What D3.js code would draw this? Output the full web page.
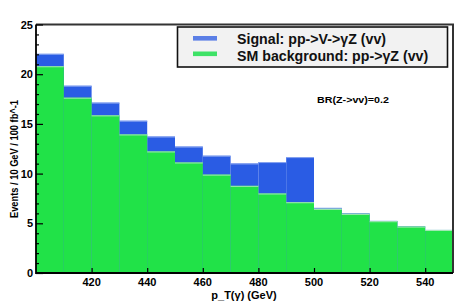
<!DOCTYPE html>
<html>
<head>
<meta charset="utf-8">
<script src="https://cdn.jsdelivr.net/npm/d3@7"></script>
<style>
  body { margin: 0; background: #fff; }
  svg { display: block; font-family: "Liberation Sans", Arial, sans-serif; font-weight: bold; }
</style>
</head>
<body>
<svg id="chart" width="463" height="304"></svg>
<script>
// bin low edges, 10 GeV wide
const binEdges = [400, 410, 420, 430, 440, 450, 460, 470, 480, 490, 500, 510, 520, 530, 540];
const background = [20.8, 17.64, 15.86, 13.94, 12.23, 11.12, 9.9, 8.77, 8.0, 7.12, 6.45, 5.95, 5.21, 4.67, 4.33];
const signal = [1.25, 1.2, 1.28, 1.38, 1.5, 1.6, 1.9, 2.25, 3.16, 4.54, 0.1, 0.05, 0.03, 0.03, 0];
const xTicks = [420, 440, 460, 480, 500, 520, 540];
const yTicks = [0, 5, 10, 15, 20, 25];
const legendLabels = ["Signal: pp->V->\u03b3Z (vv)", "SM background: pp->\u03b3Z (vv)"];

const svg = d3.select("#chart");
const padL = 36, padR = 453, padT = 24.5, padB = 273;

const x = d3.scaleLinear().domain([400, 550]).range([padL, padR]);
const y = d3.scaleLinear().domain([0, 25]).range([padB, padT]);

// stacked: total first (blue), then background (green) over it
const total = background.map((b, i) => b + signal[i]);

const drawHist = (vals, fill, edge) => {
  svg.append("g").selectAll("rect")
    .data(vals)
    .join("rect")
    .attr("x", (d, i) => x(binEdges[i]))
    .attr("width", (d, i) => x(binEdges[i] + 10) - x(binEdges[i]))
    .attr("y", d => y(d))
    .attr("height", d => y(0) - y(d))
    .attr("fill", fill);
  svg.append("g").selectAll("line")
    .data(vals)
    .join("line")
    .attr("x1", (d, i) => x(binEdges[i]))
    .attr("x2", (d, i) => x(binEdges[i] + 10))
    .attr("y1", d => y(d) + 0.5)
    .attr("y2", d => y(d) + 0.5)
    .attr("stroke", edge)
    .attr("stroke-width", 1);
};

drawHist(total, "#2a5ce4", "#8aa6f0");
drawHist(background, "#21e248", "#a8e8b8");

// frame top / right
svg.append("path")
  .attr("d", `M${padL},${padT}H${padR}V${padB}`)
  .attr("fill", "none")
  .attr("stroke", "#333")
  .attr("stroke-width", 2);

// y axis with inward ticks
const yAxis = d3.axisRight(y)
  .tickValues(d3.range(0, 26))
  .tickSize(3)
  .tickFormat("");
const gy = svg.append("g").attr("transform", `translate(${padL},0)`).call(yAxis);
gy.selectAll(".tick line").filter(d => d % 5 === 0).attr("x2", 7);
gy.select(".domain").remove();
gy.selectAll(".tick line").attr("stroke", "#000").attr("stroke-width", 1.2);

svg.append("g").selectAll("text")
  .data(yTicks)
  .join("text")
  .attr("x", padL - 3)
  .attr("y", d => y(d) + 4)
  .attr("text-anchor", "end")
  .attr("font-size", 11)
  .text(d => d);

// x axis with inward ticks
const xAxis = d3.axisTop(x)
  .tickValues(xTicks)
  .tickSize(5)
  .tickFormat("");
const gx = svg.append("g").attr("transform", `translate(0,${padB})`).call(xAxis);
gx.select(".domain").remove();
gx.selectAll(".tick line").attr("stroke", "#000").attr("stroke-width", 1.2);

svg.append("g").selectAll("text")
  .data(xTicks)
  .join("text")
  .attr("x", d => x(d))
  .attr("y", 285.5)
  .attr("text-anchor", "middle")
  .attr("font-size", 11)
  .text(d => d);

// left and bottom axis lines
svg.append("path")
  .attr("d", `M${padL},${padT}V${padB}H${padR}`)
  .attr("fill", "none")
  .attr("stroke", "#000")
  .attr("stroke-width", 1.8);

// axis titles
svg.append("text")
  .attr("x", 244)
  .attr("y", 299)
  .attr("text-anchor", "middle")
  .attr("font-size", 11)
  .text("p_T(\u03b3) (GeV)");

svg.append("text")
  .attr("transform", `translate(17.5,159) rotate(-90)`)
  .attr("text-anchor", "middle")
  .attr("font-size", 10.5)
  .attr("textLength", 118)
  .attr("lengthAdjust", "spacingAndGlyphs")
  .text("Events / 10 GeV / 100 fb^-1");

// legend
svg.append("rect")
  .attr("x", 177.5).attr("y", 27)
  .attr("width", 270).attr("height", 40)
  .attr("fill", "#f2f2f2")
  .attr("stroke", "#111")
  .attr("stroke-width", 1.6);

const legColors = ["#5b7fe6", "#3ee266"];
const swatchY = [38.3, 53.8];
const textY = [44, 61.3];
const leg = svg.append("g").selectAll("g")
  .data(legendLabels)
  .join("g");
leg.append("rect")
  .attr("x", 193).attr("y", (d, i) => swatchY[i] - 2.3)
  .attr("width", 24).attr("height", 4.6)
  .attr("fill", (d, i) => legColors[i]);
leg.append("text")
  .attr("x", 237).attr("y", (d, i) => textY[i])
  .attr("font-size", 14.2)
  .attr("fill", "#111")
  .text(d => d);

svg.append("text")
  .attr("x", 317).attr("y", 103)
  .attr("font-size", 9)
  .attr("textLength", 72)
  .attr("lengthAdjust", "spacingAndGlyphs")
  .text("BR(Z->vv)=0.2");
</script>
</body>
</html>
